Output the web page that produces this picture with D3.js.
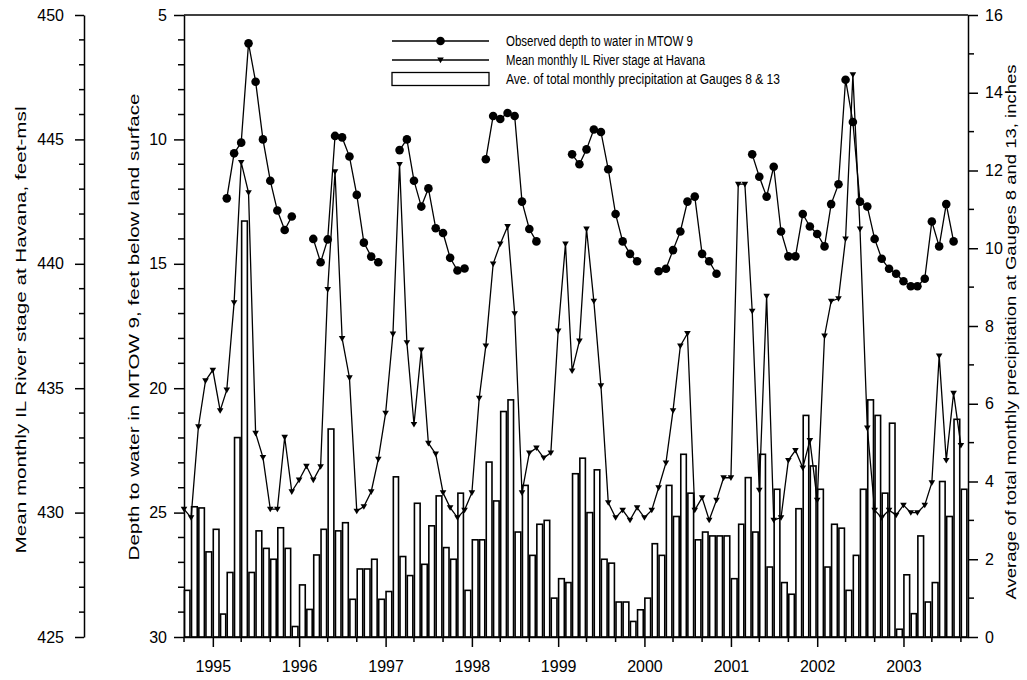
<!DOCTYPE html>
<html><head><meta charset="utf-8">
<script src="https://cdn.jsdelivr.net/npm/d3@7"></script>
<style>
body{margin:0;background:#fff;}
svg text{font-family:Arial,"Liberation Sans",sans-serif;fill:#000;}
</style></head><body>
<svg id="chart" width="1027" height="680"></svg>
<script>
// Monthly records starting September 1994 (one value per month, null = no reading)
const firstMonth = { year: 1994, month: 8 };

// Observed depth to water in MTOW 9 (feet below land surface)
const depthToWater = [
  null, null, null, null, null, null, 12.37, 10.56, 10.13, 6.14, 7.68, 10.0,
  11.66, 12.86, 13.64, 13.1, null, null, 14.0, 14.94, 14.02, 9.86, 9.92, 10.69,
  12.23, 14.15, 14.71, 14.94, null, null, 10.43, 10.0, 11.66, 12.7, 11.97, 13.57,
  13.76, 14.76, 15.27, 15.19, null, null, 10.8, 9.06, 9.18, 8.94, 9.06, 12.5,
  13.6, 14.1, null, null, null, null, 10.6, 11.0, 10.4, 9.6, 9.7, 11.2,
  13.0, 14.1, 14.6, 14.9, null, null, 15.3, 15.2, 14.45, 13.7, 12.5, 12.3,
  14.6, 14.9, 15.4, null, null, null, null, 10.6, 11.5, 12.3, 11.1, 13.7,
  14.7, 14.7, 13.0, 13.5, 13.8, 14.3, 12.6, 11.8, 7.6, 9.3, 12.5, 12.7,
  14.0, 14.8, 15.2, 15.4, 15.7, 15.9, 15.9, 15.6, 13.3, 14.3, 12.6, 14.1, null
];

// Mean monthly Illinois River stage at Havana (feet above msl)
const riverStage = [
  430.14, 429.8, 433.45, 435.3, 435.73, 434.1, 434.93, 438.44, 444.08, 442.86, 433.19, 432.22,
  430.14, 430.14, 433.03, 430.84, 431.31, 431.87, 431.31, 431.85, 438.97, 443.7, 437.0, 435.42,
  430.06, 430.24, 430.84, 432.15, 434.0, 437.18, 444.0, 436.83, 433.55, 436.54, 432.79, 432.36,
  430.8, 430.2, 429.8, 430.1, 430.8, 434.6, 436.7, 440.0, 440.8, 441.5, 438.0, 430.8,
  432.4, 432.6, 432.2, 432.4, 437.3, 440.8, 435.7, 436.9, 441.4, 438.5, 435.1, 430.4,
  429.8, 430.1, 429.7, 430.2, 429.8, 430.1, 431.0, 432.0, 434.1, 436.7, 437.2, 430.1,
  430.6, 429.7, 430.5, 431.4, 431.4, 443.2, 443.2, 438.1, 430.9, 438.7, 429.7, 429.8,
  432.1, 432.5, 431.8, 432.9, 430.5, 437.1, 438.5, 438.6, 441.0, 447.6, 441.4, 433.4,
  430.1, 429.8, 430.1, 429.9, 430.3, 430.0, 430.0, 430.3, 431.2, 436.3, 432.1, 434.8, 432.7
];

// Average of total monthly precipitation at Gauges 8 and 13 (inches)
const precipitation = [
  1.2, 3.35, 3.32, 2.19, 2.77, 0.59, 1.66, 5.13, 10.7, 1.66, 2.73, 2.28,
  2.0, 2.81, 2.28, 0.27, 1.34, 0.71, 2.11, 2.77, 5.35, 2.73, 2.94, 0.97,
  1.75, 1.75, 2.0, 0.97, 1.17, 4.12, 2.07, 1.58, 3.44, 1.87, 2.86, 3.63,
  2.3, 2.0, 3.7, 1.2, 2.5, 2.5, 4.5, 3.5, 5.8, 6.1, 2.7, 3.9,
  2.1, 2.9, 3.0, 1.0, 1.5, 1.4, 4.2, 4.6, 3.2, 4.3, 2.0, 1.9,
  0.9, 0.9, 0.4, 0.7, 1.0, 2.4, 2.1, 3.9, 3.1, 4.7, 3.7, 2.5,
  2.7, 2.6, 2.6, 2.6, 1.5, 2.9, 4.1, 2.7, 4.7, 1.8, 3.8, 1.4,
  1.1, 3.3, 5.7, 4.4, 3.8, 1.8, 2.9, 2.8, 1.2, 2.1, 3.8, 6.1,
  5.7, 3.7, 5.5, 0.2, 1.6, 0.6, 2.6, 0.9, 1.4, 4.0, 3.1, 5.6, 3.8
];

const yearLabels = ["1995", "1996", "1997", "1998", "1999", "2000", "2001", "2002", "2003"];
const stageTicks = [425, 430, 435, 440, 445, 450];
const depthTicks = [5, 10, 15, 20, 25, 30];
const precipTicks = [0, 2, 4, 6, 8, 10, 12, 14, 16];

const legendLabels = [
  "Observed depth to water in MTOW 9",
  "Mean monthly IL River stage at Havana",
  "Ave. of total monthly precipitation at Gauges 8 & 13"
];

const axisTitles = {
  stage: "Mean monthly IL River stage at Havana, feet-msl",
  depth: "Depth to water in MTOW 9, feet below land surface",
  precip: "Average of total monthly precipitation at Gauges 8 and 13, inches"
};

// ---------- layout ----------
const svg = d3.select("#chart");
const plot = { left: 184, right: 968, top: 15, bottom: 637 };
const stageAxisX = 84;

const monthDate = i => new Date(firstMonth.year, firstMonth.month + i, 1);
const n = riverStage.length;

const x = d3.scaleTime()
  .domain([monthDate(0), monthDate(n)])
  .range([plot.left, plot.right]);
const yDepth = d3.scaleLinear().domain([5, 30]).range([plot.top, plot.bottom]);
const yStage = d3.scaleLinear().domain([425, 450]).range([plot.bottom, plot.top]);
const yPrecip = d3.scaleLinear().domain([0, 16]).range([plot.bottom, plot.top]);

const FONT = 16;

// ---------- precipitation bars ----------
const bars = svg.append("g");
precipitation.forEach((p, i) => {
  const x0 = x(monthDate(i)), x1 = x(monthDate(i + 1));
  const w = (x1 - x0) * 0.78;
  const cx = x0 + (x1 - x0) * 0.45;
  bars.append("rect")
    .attr("x", cx - w / 2)
    .attr("y", yPrecip(p))
    .attr("width", w)
    .attr("height", yPrecip(0) - yPrecip(p))
    .attr("fill", "#fff")
    .attr("stroke", "#000")
    .attr("stroke-width", 1.6);
});

// ---------- river stage line with down triangles ----------
const stagePts = riverStage.map((v, i) => ({ d: monthDate(i), v }));
svg.append("path")
  .datum(stagePts)
  .attr("fill", "none")
  .attr("stroke", "#000")
  .attr("stroke-width", 1.3)
  .attr("d", d3.line().defined(d => d.v != null).x(d => x(d.d)).y(d => yStage(d.v)));

const triPath = "M-3.3,-2.4L3.3,-2.4L0,3.2Z";
svg.append("g").selectAll("path")
  .data(stagePts.filter(d => d.v != null))
  .join("path")
  .attr("d", triPath)
  .attr("transform", d => `translate(${x(d.d)},${yStage(d.v)})`)
  .attr("fill", "#000");

// ---------- depth to water with filled circles ----------
const depthPts = depthToWater.map((v, i) => ({ d: monthDate(i), v }));
svg.append("path")
  .datum(depthPts)
  .attr("fill", "none")
  .attr("stroke", "#000")
  .attr("stroke-width", 1.3)
  .attr("d", d3.line().defined(d => d.v != null).x(d => x(d.d)).y(d => yDepth(d.v)));
svg.append("g").selectAll("circle")
  .data(depthPts.filter(d => d.v != null))
  .join("circle")
  .attr("cx", d => x(d.d))
  .attr("cy", d => yDepth(d.v))
  .attr("r", 4.3)
  .attr("fill", "#000");

// ---------- frame ----------
svg.append("line")
  .attr("x1", plot.left).attr("x2", plot.right)
  .attr("y1", plot.top).attr("y2", plot.top)
  .attr("stroke", "#000").attr("stroke-width", 1.5);

function styleAxis(g) {
  g.select(".domain").attr("stroke", "#000").attr("stroke-width", 1.5);
  g.selectAll(".tick line").attr("stroke", "#000").attr("stroke-width", 1.5);
  g.selectAll(".tick text").attr("font-size", FONT).attr("font-family", "Arial, 'Liberation Sans', sans-serif");
}

// minor tick helper
function minorTicks(g, values, pos, len, dir) {
  g.selectAll(null).data(values).join("line")
    .attr("x1", d => dir === "h" ? pos.x : pos.scale(d))
    .attr("x2", d => dir === "h" ? pos.x + len : pos.scale(d))
    .attr("y1", d => dir === "h" ? pos.scale(d) : pos.y)
    .attr("y2", d => dir === "h" ? pos.scale(d) : pos.y + len)
    .attr("stroke", "#000").attr("stroke-width", 1.5);
}

// outer left: river stage
const gStage = svg.append("g").attr("transform", `translate(${stageAxisX},0)`)
  .call(d3.axisLeft(yStage).tickValues(stageTicks).tickSize(9).tickPadding(11).tickFormat(d3.format("d")).tickSizeOuter(0));
styleAxis(gStage);
minorTicks(svg.append("g"), d3.range(425, 450).filter(v => v % 5 !== 0), { x: stageAxisX, scale: yStage }, -5, "h");

// inner left: depth
const gDepth = svg.append("g").attr("transform", `translate(${plot.left},0)`)
  .call(d3.axisLeft(yDepth).tickValues(depthTicks).tickSize(10).tickPadding(7).tickFormat(d3.format("d")).tickSizeOuter(0));
styleAxis(gDepth);
minorTicks(svg.append("g"), d3.range(5, 30).filter(v => v % 5 !== 0), { x: plot.left, scale: yDepth }, -6, "h");

// right: precipitation
const gPrecip = svg.append("g").attr("transform", `translate(${plot.right},0)`)
  .call(d3.axisRight(yPrecip).tickValues(precipTicks).tickSize(10).tickPadding(7).tickFormat(d3.format("d")).tickSizeOuter(0));
styleAxis(gPrecip);
minorTicks(svg.append("g"), d3.range(1, 16, 2), { x: plot.right, scale: yPrecip }, 6, "h");

// bottom: years
const yearDates = yearLabels.map(y => new Date(+y, 0, 1));
const gX = svg.append("g").attr("transform", `translate(0,${plot.bottom})`)
  .call(d3.axisBottom(x).tickValues(yearDates).tickSize(10).tickPadding(14).tickFormat((d, i) => yearLabels[i]).tickSizeOuter(0));
styleAxis(gX);
const minorX = d3.timeMonth.every(4).range(monthDate(0), monthDate(n + 1))
  .filter(d => d.getMonth() !== 0);
minorTicks(svg.append("g"), minorX, { y: plot.bottom, scale: x }, 5, "v");

// ---------- axis titles ----------
function vTitle(txt, cx, cy, len) {
  svg.append("text")
    .attr("transform", `translate(${cx},${cy}) rotate(-90)`)
    .attr("text-anchor", "middle")
    .attr("dominant-baseline", "central")
    .attr("font-size", 14)
    .attr("textLength", len)
    .attr("lengthAdjust", "spacingAndGlyphs")
    .text(txt);
}
vTitle(axisTitles.stage, 21, 330, 447);
vTitle(axisTitles.depth, 134, 327, 467);
vTitle(axisTitles.precip, 1011, 332, 535);

// ---------- legend ----------
const lg = svg.append("g");
const lx0 = 392, lx1 = 489, ltx = 506;
const rows = [41, 60, 79];
const legendWidths = [187, 199, 274];
lg.append("line").attr("x1", lx0).attr("x2", lx1).attr("y1", rows[0]).attr("y2", rows[0]).attr("stroke", "#000").attr("stroke-width", 1.3);
lg.append("circle").attr("cx", (lx0 + lx1) / 2).attr("cy", rows[0]).attr("r", 4.3).attr("fill", "#000");
lg.append("line").attr("x1", lx0).attr("x2", lx1).attr("y1", rows[1]).attr("y2", rows[1]).attr("stroke", "#000").attr("stroke-width", 1.3);
lg.append("path").attr("d", triPath).attr("transform", `translate(${(lx0 + lx1) / 2},${rows[1]})`).attr("fill", "#000");
lg.append("rect").attr("x", lx0).attr("y", rows[2] - 6.5).attr("width", lx1 - lx0).attr("height", 13)
  .attr("fill", "#fff").attr("stroke", "#000").attr("stroke-width", 1.3);
legendLabels.forEach((t, i) => {
  lg.append("text").attr("x", ltx).attr("y", rows[i]).attr("dominant-baseline", "central")
    .attr("font-size", 14)
    .attr("textLength", legendWidths[i])
    .attr("lengthAdjust", "spacingAndGlyphs")
    .text(t);
});
</script>
</body></html>
